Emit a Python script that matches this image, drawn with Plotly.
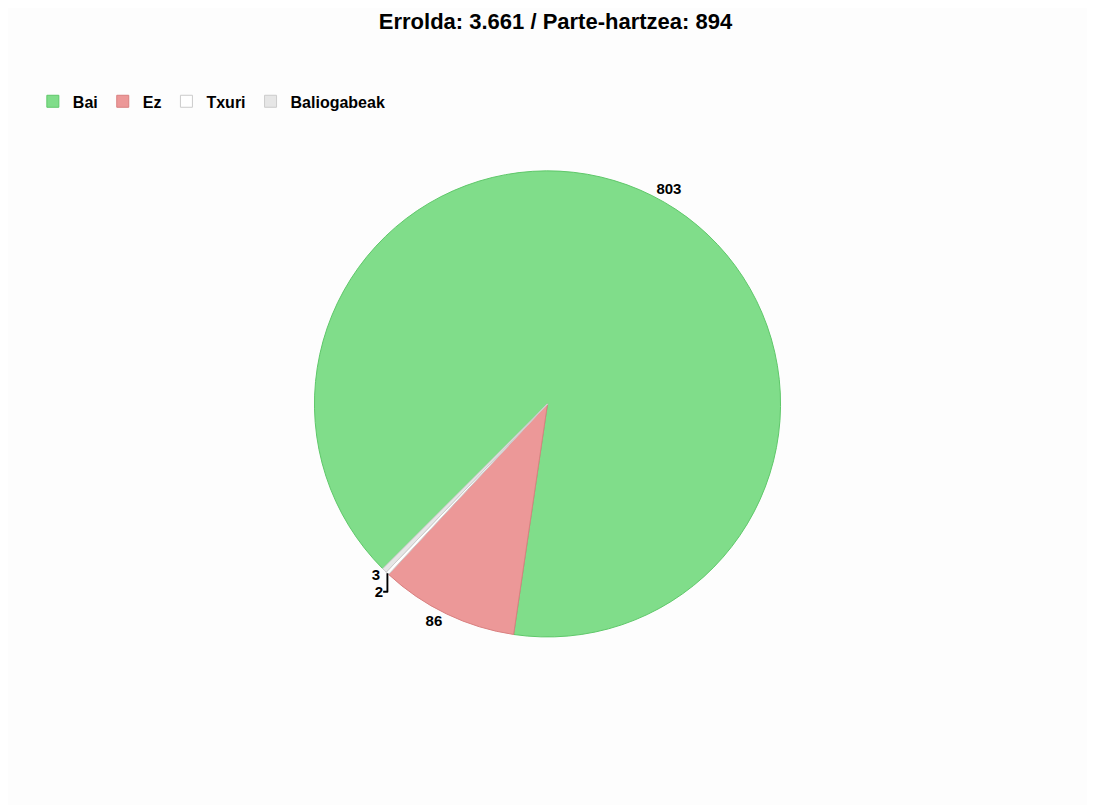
import plotly.graph_objects as go

labels = ["Bai", "Ez", "Txuri", "Baliogabeak"]
votes = [803, 86, 2, 3]
fill_colors = ["#80dd8a", "#ec9898", "#ffffff", "#e6e6e6"]
line_colors = ["#5fc86a", "#d98080", "#cccccc", "#cccccc"]

errolda = "3.661"
title_text = f"Errolda: {errolda} / Parte-hartzea: {sum(votes)}"

fig = go.Figure(go.Pie(
    labels=labels,
    values=votes,
    sort=False,
    direction="clockwise",
    rotation=225,
    marker=dict(colors=fill_colors, line=dict(color=line_colors, width=1)),
    textinfo="value",
    textposition="outside",
    textfont=dict(family="Liberation Sans", size=15, color="#000000", weight="bold"),
    domain=dict(x=[0.1927, 0.7927], y=[0.2187, 0.7977]),
    hoverinfo="label+value+percent",
))

fig.update_layout(
    width=1095, height=805,
    margin=dict(l=0, r=0, t=0, b=0),
    paper_bgcolor="#fdfdfd",
    font=dict(family="Liberation Sans", color="#000000"),
    title=dict(text=f"<b>{title_text}</b>", x=0.5, xanchor="center",
               y=0.984, yanchor="middle", font=dict(size=22)),
    legend=dict(orientation="h", x=0.0227, y=0.884, xanchor="left", yanchor="middle",
                font=dict(size=16, weight="bold"), itemwidth=30, traceorder="normal"),
)

fig.write_html("out.html")
